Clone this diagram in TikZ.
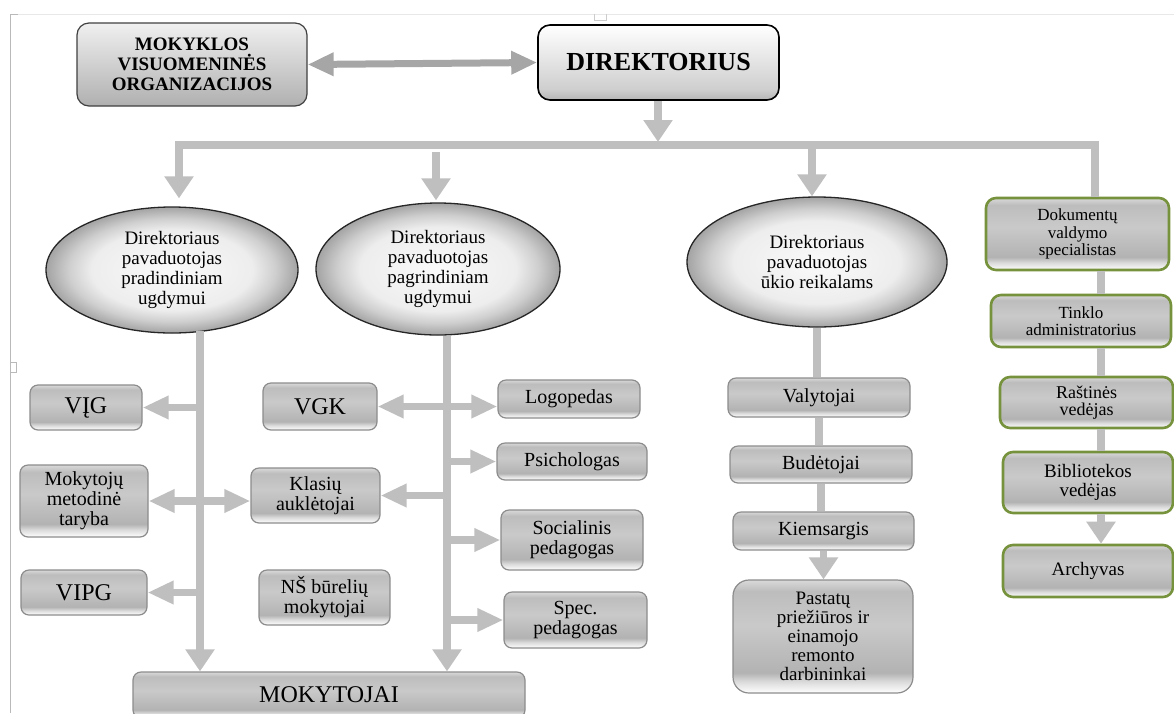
\documentclass[tikz,border=0pt]{standalone}
\usepackage{fontspec}
\setmainfont{Liberation Serif}
\usepackage{tikz}
\usetikzlibrary{shapes.geometric,arrows.meta,positioning,calc}
\definecolor{orgLine}{HTML}{BFBFBF}
\definecolor{orgLineDark}{HTML}{A6A6A6}
\definecolor{orgGreen}{HTML}{76923C}
\definecolor{orgFrame}{HTML}{E8E8E8}
\definecolor{orgEdge}{HTML}{8C8C8C}
% shadings for the bevel look
\pgfdeclareverticalshading{orgBevel}{100bp}{color(0bp)=(white); color(25bp)=(white); color(30bp)=(gray!28); color(34bp)=(gray!60); color(55bp)=(gray!42); color(70bp)=(gray!52); color(75bp)=(gray!30); color(100bp)=(gray!30)}
\pgfdeclareverticalshading{orgTop}{100bp}{color(0bp)=(gray!62); color(25bp)=(gray!62); color(75bp)=(gray!12); color(100bp)=(gray!12)}
\pgfdeclareverticalshading{orgDir}{100bp}{color(0bp)=(gray!58); color(25bp)=(gray!58); color(32bp)=(gray!38); color(75bp)=(white); color(100bp)=(white)}
\pgfdeclareradialshading{orgRing}{\pgfpoint{0bp}{0bp}}{color(0bp)=(gray!4); color(16bp)=(gray!14); color(20.5bp)=(gray!38); color(25bp)=(gray!72); color(50bp)=(gray!72)}
\tikzset{
    orgBoxBase/.style={
        rectangle,
        rounded corners=8pt,
        draw=orgEdge,
        line width=1.2pt,
        shade, shading=orgBevel,
        align=center,
        inner sep=2pt,
        font=\fontsize{20}{20}\selectfont
    },
    orgEllipse/.style={
        ellipse,
        draw=black!85,
        line width=1.3pt,
        shade, shading=orgRing,
        align=center,
        inner sep=0pt,
        font=\fontsize{19}{20}\selectfont
    },
    % Semantic Variants
    topbox/.style={orgBoxBase, rounded corners=12pt, draw=black!75, shading=orgTop, font=\bfseries\fontsize{19}{20}\selectfont},
    dirbox/.style={orgBoxBase, rounded corners=12pt, draw=black, line width=1.6pt, shading=orgDir, font=\bfseries\fontsize{26}{26}\selectfont},
    greenbox/.style={orgBoxBase, rounded corners=10pt, draw=orgGreen, line width=2.6pt, font=\fontsize{17}{17.5}\selectfont},
    bigtext/.style={font=\fontsize{24}{24}\selectfont},
    % Arrows
    orgArrowBase/.style={-{Triangle[length=26pt,width=22pt]}, line width=7.5pt, draw=orgLine},
    orgArrowDown/.style={orgArrowBase, -{Triangle[length=22pt,width=28pt]}},
    orgArrowBoth/.style={orgArrowBase, {Triangle[length=26pt,width=22pt]}-{Triangle[length=26pt,width=22pt]}},
    orgLink/.style={line width=7.5pt, draw=orgLine}
}

\begin{document}
\begin{tikzpicture}[x=1pt, y=-1pt]
\useasboundingbox (0,0) rectangle (1174,713);
% page frame
\draw[orgFrame, line width=1pt] (14,14) -- (1174,14);
\draw[gray!55, line width=1pt] (18,14) -- (10,14) -- (10,713);
\draw[gray!40, line width=1pt] (594,14) -- (594,20) -- (606,20) -- (606,14);
\draw[gray!55, line width=1pt] (10,362) -- (16,362) -- (16,372) -- (10,372);

% Top level
\node[topbox, minimum width=230pt, minimum height=83pt] (mok) at (192,64.5) {MOKYKLOS\\VISUOMENINĖS\\ORGANIZACIJOS};
\node[dirbox, minimum width=241pt, minimum height=75pt] (dir) at (658.5,62.5) {DIREKTORIUS};
\draw[orgArrowBoth, draw=orgLineDark, line width=7pt] (mok.east) -- (dir.west);

% Deputies
\node[orgEllipse, minimum width=252pt, minimum height=126pt] (e1) at (172,270) {Direktoriaus\\pavaduotojas\\pradindiniam\\ugdymui};
\node[orgEllipse, minimum width=244pt, minimum height=132pt] (e2) at (438,269) {Direktoriaus\\pavaduotojas\\pagrindiniam\\ugdymui};
\node[orgEllipse, minimum width=260pt, minimum height=130pt] (e3) at (817,262) {Direktoriaus\\pavaduotojas\\ūkio reikalams};
\node[greenbox, minimum width=183pt, minimum height=72pt] (dok) at (1077.5,234) {Dokumentų\\valdymo\\specialistas};

% Distribution bar
\coordinate (barMid) at (658,145);
\coordinate (barL) at (179,145);
\coordinate (barR) at (1095,145);
\coordinate (barE3) at (812,145);
\coordinate (e2in) at (436,152);
\draw[orgArrowDown, shorten >=3pt] (dir.south -| barMid) -- (barMid);
\draw[orgArrowDown, shorten >=8pt] (barR |- dok.north) -- (barR) -- (barL) -- (barL |- e1.north);
\draw[orgArrowDown, shorten >=2pt] (e2in) -- (e2in |- e2.north);
\draw[orgArrowDown] (barE3) -- (barE3 |- e3.north);

% Primary education branch
\node[orgBoxBase, bigtext, minimum width=112pt, minimum height=45pt] (vig) at (86,407.5) {VĮG};
\node[orgBoxBase, minimum width=128pt, minimum height=72pt] (mmt) at (84,501) {Mokytojų\\metodinė\\taryba};
\node[orgBoxBase, bigtext, minimum width=126pt, minimum height=45pt] (vipg) at (84,592.5) {VIPG};
\node[orgBoxBase, bigtext, minimum width=114pt, minimum height=47pt] (vgk) at (320,406.5) {VGK};
\node[orgBoxBase, minimum width=129pt, minimum height=55pt] (kla) at (315.5,495.5) {Klasių\\auklėtojai};
\node[orgBoxBase, minimum width=131pt, minimum height=55pt] (nsb) at (324.5,597.5) {NŠ būrelių\\mokytojai};
\node[orgBoxBase, bigtext, minimum width=392pt, minimum height=46pt] (mokyt) at (329,695) {MOKYTOJAI};

\coordinate (sp1) at (200,331);
\draw[orgArrowBase] (sp1 |- vig.east) -- (vig.east);
\draw[orgArrowBoth] (mmt.east) -- (mmt.east -| kla.west);
\draw[orgArrowBase] (sp1 |- vipg.east) -- (vipg.east);
\draw[orgArrowDown] (sp1) -- (sp1 |- mokyt.north);

% Basic education branch
\node[orgBoxBase, minimum width=142pt, minimum height=38pt] (logo) at (569,399) {Logopedas};
\node[orgBoxBase, minimum width=150pt, minimum height=37pt] (psi) at (572,461.5) {Psichologas};
\node[orgBoxBase, minimum width=142pt, minimum height=60pt] (soc) at (572,540) {Socialinis\\pedagogas};
\node[orgBoxBase, minimum width=143pt, minimum height=56pt] (spec) at (575.5,620) {Spec.\\pedagogas};

\coordinate (sp2) at (447,336);
\draw[orgArrowBoth] (vgk.east) -- (vgk.east -| logo.west);
\draw[orgArrowBase] (sp2 |- psi.west) -- (psi.west);
\draw[orgArrowBase] (sp2 |- kla.east) -- (kla.east);
\draw[orgArrowBase] (sp2 |- soc.west) -- (soc.west);
\draw[orgArrowBase] (sp2 |- spec.west) -- (spec.west);
\draw[orgArrowDown] (sp2) -- (sp2 |- mokyt.north);

% Maintenance branch
\node[orgBoxBase, minimum width=182pt, minimum height=39pt] (val) at (819,397.5) {Valytojai};
\node[orgBoxBase, minimum width=182pt, minimum height=37pt] (bud) at (821,464.5) {Budėtojai};
\node[orgBoxBase, minimum width=181pt, minimum height=38pt] (kie) at (823.5,531) {Kiemsargis};
\node[orgBoxBase, rounded corners=16pt, minimum width=180pt, minimum height=113pt, font=\fontsize{19}{19}\selectfont] (pas) at (823,636.5) {Pastatų\\priežiūros ir\\einamojo\\remonto\\darbininkai};

\draw[orgLink] (e3.south) -- (e3.south |- val.north);
\draw[orgLink] (val.south) -- (val.south |- bud.north);
\draw[orgLink] (bud.south) -- (bud.south |- kie.north);
\draw[orgArrowDown] (kie.south) -- (kie.south |- pas.north);

% Administration branch
\node[greenbox, minimum width=180pt, minimum height=52pt] (tin) at (1081,321) {Tinklo\\administratorius};
\node[greenbox, minimum width=173pt, minimum height=51pt, font=\fontsize{18}{17.5}\selectfont] (ras) at (1086.5,402.5) {Raštinės\\vedėjas};
\node[greenbox, minimum width=170pt, minimum height=61pt, font=\fontsize{19}{19}\selectfont] (bib) at (1088,482.5) {Bibliotekos\\vedėjas};
\node[greenbox, minimum width=170pt, minimum height=52pt, font=\fontsize{19}{19}\selectfont] (arc) at (1088,571) {Archyvas};

\coordinate (sp4) at (1101,270);
\draw[orgLink] (sp4 |- dok.south) -- (sp4 |- tin.north);
\draw[orgLink] (sp4 |- tin.south) -- (sp4 |- ras.north);
\draw[orgLink] (sp4 |- ras.south) -- (sp4 |- bib.north);
\draw[orgArrowDown] (sp4 |- bib.south) -- (sp4 |- arc.north);
\end{tikzpicture}
\end{document}
